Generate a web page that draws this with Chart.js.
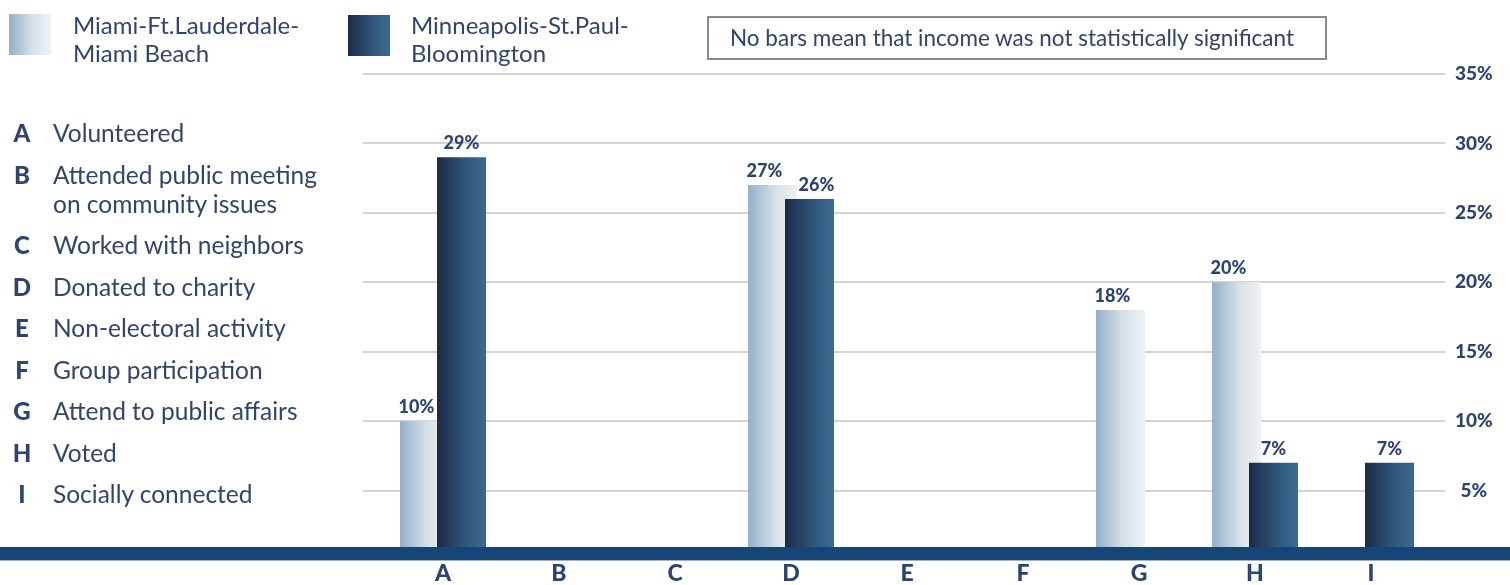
<!DOCTYPE html>
<html>
<head>
<meta charset="utf-8">
<script src="https://cdn.jsdelivr.net/npm/chart.js@4"></script>
<style>
  html, body { margin: 0; padding: 0; background: #fff; }
  body { width: 1510px; height: 585px; position: relative; overflow: hidden; font-family: Lato, "Open Sans", sans-serif; color: #2f456b; }
  #chart { position: absolute; left: 0; top: 0; }
  .swatch { position: absolute; width: 42px; height: 41px; }
  .swatch.light { left: 9px; top: 14px; background: linear-gradient(to right, #94afc9, #d6e0e8 55%, #eef2f4); }
  .swatch.dark { left: 348px; top: 15px; background: linear-gradient(to right, #1b2a48, #2f5479 55%, #3d6a91); }
  .series-name { position: absolute; font-size: 24px; line-height: 28px; white-space: pre-line; }
  .note { position: absolute; left: 707px; top: 16px; width: 595px; height: 40px; border: 2px solid #8a8a8a; font-size: 22.5px; line-height: 40px; padding-left: 21px; }
  #keys { position: absolute; left: 0; top: 118px; }
  .key { display: flex; align-items: flex-start; margin-bottom: 12.5px; font-size: 24.5px; line-height: 29px; }
  .key b { width: 44px; text-align: center; font-weight: 900; font-size: 24px; color: #2d4470; }
  .key span { white-space: pre-line; margin-left: 9px; }
</style>
</head>
<body>
<canvas id="chart" width="1510" height="585"></canvas>
<div class="swatch light"></div>
<div class="series-name" style="left:73px; top:11px;" id="name0"></div>
<div class="swatch dark"></div>
<div class="series-name" style="left:411px; top:11px;" id="name1"></div>
<div class="note">No bars mean that income was not statistically significant</div>
<div id="keys"></div>
<script>
// categories and what each letter stands for
const categories = ['A', 'B', 'C', 'D', 'E', 'F', 'G', 'H', 'I'];
const descriptions = [
    'Volunteered',
    'Attended public meeting\non community issues',
    'Worked with neighbors',
    'Donated to charity',
    'Non-electoral activity',
    'Group participation',
    'Attend to public affairs',
    'Voted',
    'Socially connected'
];

// percentages (null = no bar, not significant)
const seriesNames = ['Miami-Ft.Lauderdale-\nMiami Beach', 'Minneapolis-St.Paul-\nBloomington'];
const miami = [10, null, null, 27, null, null, 18, 20, null];
const minneapolis = [29, null, null, 26, null, null, null, 7, 7];

const yMin = 0;
const yMax = 35;
const yStep = 5;

const textColor = '#2d4470';
const catPct = 0.638;
const barPct = 1.324;

document.getElementById('name0').textContent = seriesNames[0];
document.getElementById('name1').textContent = seriesNames[1];

const keys = document.getElementById('keys');
categories.forEach((c, i) => {
    const row = document.createElement('div');
    row.className = 'key';
    const b = document.createElement('b');
    b.textContent = c;
    const s = document.createElement('span');
    s.textContent = descriptions[i];
    row.appendChild(b);
    row.appendChild(s);
    keys.appendChild(row);
});

// horizontal gradient across each bar
function barGradient(stops) {
    return (ctx) => {
        const chart = ctx.chart;
        const xScale = chart.scales.x;
        if (!chart.chartArea || !xScale || ctx.type !== 'data') return stops[stops.length - 1][1];
        const slot = (xScale.width / categories.length) * catPct / 2;
        const center = xScale.getPixelForValue(ctx.dataIndex) + (ctx.datasetIndex === 0 ? -slot / 2 : slot / 2);
        const half = slot * barPct / 2;
        const g = chart.ctx.createLinearGradient(center - half, 0, center + half, 0);
        stops.forEach(([p, c]) => g.addColorStop(p, c));
        return g;
    };
}

// Minneapolis bars overlap the Miami ones, so Miami is painted first
const miamiBehind = {
    id: 'miamiBehind',
    beforeDatasetsDraw(chart) {
        const { ctx, chartArea, scales: { y } } = chart;
        // gridlines run a bit past the left of the plot
        ctx.save();
        ctx.strokeStyle = '#d3d3d3';
        ctx.lineWidth = 2;
        y.ticks.forEach(t => {
            if (t.value === 0) return;
            const py = Math.round(y.getPixelForValue(t.value));
            ctx.beginPath();
            ctx.moveTo(363, py);
            ctx.lineTo(chartArea.left, py);
            ctx.stroke();
        });
        ctx.restore();
        chart.getDatasetMeta(0).controller.draw();
    },
    beforeDatasetDraw(chart, args) {
        if (args.index === 0) return false;
    }
};

// navy base band and the value labels on top of bars
const bandAndLabels = {
    id: 'bandAndLabels',
    afterDatasetsDraw(chart) {
        const { ctx, width, scales: { y } } = chart;
        const base = y.getPixelForValue(0);
        ctx.save();
        ctx.fillStyle = '#164578';
        ctx.fillRect(0, base - 13, width, 13);
        ctx.fillStyle = '#9fb3c8';
        ctx.fillRect(0, base, width, 1);

        ctx.fillStyle = textColor;
        ctx.font = '900 18px Lato';
        ctx.textAlign = 'center';
        ctx.textBaseline = 'alphabetic';
        const sets = chart.data.datasets;
        sets.forEach((ds, di) => {
            chart.getDatasetMeta(di).data.forEach((bar, i) => {
                const v = ds.data[i];
                if (v === null) return;
                const other = sets[1 - di].data[i];
                let dx = di === 0 ? -8 : 0;
                // push the two labels apart when the bars are about the same height
                if (di === 1 && other !== null && Math.abs(other - v) < 3) dx = 7;
                ctx.fillText(v + '%', bar.x + dx, bar.y - 8);
            });
        });
        ctx.restore();
    }
};

function draw() {
    new Chart(document.getElementById('chart'), {
        type: 'bar',
        data: {
            labels: categories,
            datasets: [
                {
                    label: seriesNames[0],
                    data: miami,
                    backgroundColor: barGradient([[0, '#94afc9'], [0.55, '#d6e0e8'], [1, '#eef2f4']]),
                    borderWidth: 0,
                    categoryPercentage: catPct,
                    barPercentage: barPct
                },
                {
                    label: seriesNames[1],
                    data: minneapolis,
                    backgroundColor: barGradient([[0, '#1b2a48'], [0.55, '#2f5479'], [1, '#3d6a91']]),
                    borderWidth: 0,
                    categoryPercentage: catPct,
                    barPercentage: barPct
                }
            ]
        },
        options: {
            responsive: false,
            animation: false,
            layout: { padding: { left: 385, top: 74, right: 0, bottom: 0 } },
            plugins: {
                legend: { display: false },
                tooltip: { enabled: false }
            },
            scales: {
                x: {
                    grid: { display: false },
                    border: { display: false },
                    ticks: {
                        color: textColor,
                        font: { family: 'Lato', size: 23, weight: '900' },
                        padding: -8
                    },
                    afterFit(scale) { scale.height = 25; }
                },
                y: {
                    position: 'right',
                    min: yMin,
                    max: yMax,
                    border: { display: false },
                    grid: {
                        color: (c) => c.tick && c.tick.value === 0 ? 'rgba(0,0,0,0)' : '#d3d3d3',
                        lineWidth: 2,
                        drawTicks: true,
                        tickLength: 16
                    },
                    ticks: {
                        stepSize: yStep,
                        color: textColor,
                        font: { family: 'Lato', size: 19, weight: '900' },
                        crossAlign: 'center',
                        padding: 10,
                        callback: (v) => v === 0 ? '' : v + '%'
                    },
                    afterFit(scale) { scale.width = 81; }
                }
            }
        },
        plugins: [miamiBehind, bandAndLabels]
    });
}

document.fonts.ready.then(draw);
</script>
</body>
</html>
